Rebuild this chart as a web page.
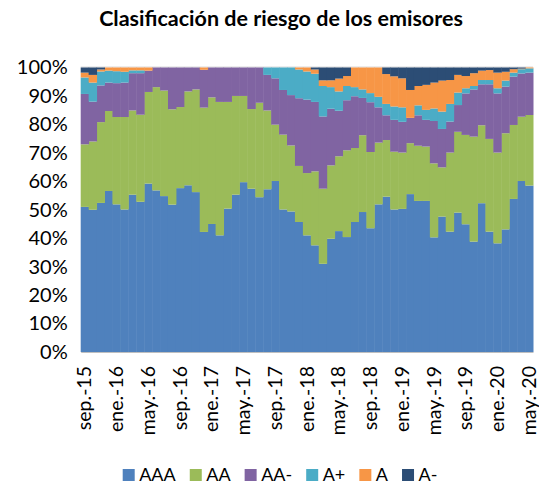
<!DOCTYPE html>
<html>
<head>
<meta charset="utf-8">
<script src="https://cdn.jsdelivr.net/npm/d3@7"></script>
<style>
  body { margin: 0; background: #fff; }
  svg { display: block; font-family: Lato, 'Open Sans', sans-serif; }
</style>
</head>
<body>
<div id="chart"></div>
<script>
// monthly categories, sep-15 .. may-20
const months = [
  'sep.-15', 'oct.-15', 'nov.-15', 'dic.-15',
  'ene.-16', 'feb.-16', 'mar.-16', 'abr.-16', 'may.-16', 'jun.-16', 'jul.-16', 'ago.-16', 'sep.-16', 'oct.-16', 'nov.-16', 'dic.-16',
  'ene.-17', 'feb.-17', 'mar.-17', 'abr.-17', 'may.-17', 'jun.-17', 'jul.-17', 'ago.-17', 'sep.-17', 'oct.-17', 'nov.-17', 'dic.-17',
  'ene.-18', 'feb.-18', 'mar.-18', 'abr.-18', 'may.-18', 'jun.-18', 'jul.-18', 'ago.-18', 'sep.-18', 'oct.-18', 'nov.-18', 'dic.-18',
  'ene.-19', 'feb.-19', 'mar.-19', 'abr.-19', 'may.-19', 'jun.-19', 'jul.-19', 'ago.-19', 'sep.-19', 'oct.-19', 'nov.-19', 'dic.-19',
  'ene.-20', 'feb.-20', 'mar.-20', 'abr.-20', 'may.-20'
]

// share of each rating (%)
const aaa = [
  51.0, 50.0, 52.4, 56.6, 51.9, 50.1, 55.3, 52.8, 59.2, 56.8, 54.8, 51.8, 57.6, 58.6, 56.2,
  42.2, 45.0, 41.0, 50.4, 55.3, 59.7, 57.4, 54.4, 57.2, 60.1, 50.1, 49.4, 45.7, 41.0, 37.5,
  31.0, 39.8, 42.5, 40.4, 45.7, 49.2, 43.5, 51.9, 54.6, 50.1, 50.3, 55.5, 53.1, 53.1, 40.3,
  47.6, 42.3, 49.0, 44.9, 38.8, 52.3, 42.3, 38.2, 43.1, 53.8, 60.1, 58.5
]
const aa = [
  22.0, 24.0, 28.4, 28.1, 30.7, 32.5, 29.6, 30.6, 32.2, 36.3, 37.1, 33.5, 28.5, 33.0, 36.1,
  43.7, 44.5, 46.9, 37.5, 34.7, 30.3, 28.0, 33.2, 27.7, 19.8, 26.3, 23.2, 19.7, 21.9, 26.0,
  26.4, 25.8, 26.3, 30.5, 26.0, 27.0, 26.8, 21.7, 19.9, 20.3, 19.8, 17.9, 19.4, 19.1, 26.0,
  17.3, 27.8, 28.4, 31.4, 36.9, 27.4, 32.6, 31.9, 33.8, 26.0, 22.6, 24.8
]
const aaMinus = [
  17.7, 14.0, 12.9, 10.0, 11.9, 12.1, 13.1, 14.6, 7.5, 6.9, 8.1, 14.7, 13.9, 8.4, 7.7,
  13.3, 10.5, 12.1, 12.1, 10.0, 10.0, 14.6, 12.4, 12.5, 16.3, 15.7, 17.7, 23.8, 25.8, 24.4,
  25.4, 19.9, 16.0, 17.6, 18.2, 13.1, 17.5, 12.4, 8.7, 11.2, 10.8, 8.9, 10.7, 9.4, 14.9,
  13.5, 10.9, 9.4, 14.6, 16.6, 14.4, 19.2, 20.8, 16.4, 17.0, 15.2, 14.9
]
const aPlus = [
  5.8, 6.7, 4.9, 4.2, 4.2, 3.8, 1.0, 1.0, 0, 0, 0, 0, 0, 0, 0,
  0, 0, 0, 0, 0, 0, 0, 0, 2.6, 3.8, 7.9, 9.7, 10.1, 9.9, 9.9,
  10.7, 7.6, 6.8, 5.0, 3.2, 3.0, 3.2, 3.7, 4.0, 4.7, 5.1, 0, 3.5, 3.5, 4.4,
  6.1, 6.2, 4.4, 1.8, 1.2, 1.5, 1.5, 1.8, 2.1, 1.4, 1.5, 1.5
]
const aRating = [
  1.7, 2.7, 0.7, 1.1, 1.3, 1.5, 1.0, 1.0, 1.1, 0, 0, 0, 0, 0, 0,
  0.8, 0, 0, 0, 0, 0, 0, 0, 0, 0, 0, 0, 0.7, 1.4, 1.5,
  2.0, 2.4, 4.5, 3.5, 6.9, 7.7, 9.0, 10.3, 10.5, 10.6, 10.2, 9.8, 6.8, 8.8, 9.1,
  10.9, 8.4, 6.2, 4.3, 4.5, 3.3, 3.5, 5.5, 3.1, 1.2, 0.2, 0.3
]
const aMinus = [
  1.8, 2.6, 0.7, 0, 0, 0, 0, 0, 0, 0, 0, 0, 0, 0, 0,
  0, 0, 0, 0, 0, 0, 0, 0, 0, 0, 0, 0, 0, 0, 0.7,
  4.5, 4.5, 3.9, 3.0, 0, 0, 0, 0, 2.3, 3.1, 3.8, 7.9, 6.5, 6.1, 5.3,
  4.6, 4.4, 2.6, 3.0, 2.0, 1.1, 0.9, 1.8, 1.5, 0.6, 0.4, 0
]

const seriesNames = ['AAA', 'AA', 'AA-', 'A+', 'A', 'A-']
const seriesValues = [aaa, aa, aaMinus, aPlus, aRating, aMinus]
const colors = ['#4F81BD', '#9BBB59', '#8064A2', '#4BACC6', '#F79646', '#2C4D75']
const yTicks = [0, 10, 20, 30, 40, 50, 60, 70, 80, 90, 100]

const width = 539
const height = 484
const margin = { top: 67.5, right: 6, bottom: 132, left: 80.7 }

const rows = months.map((m, i) => {
  const row = { month: m }
  seriesNames.forEach((s, j) => (row[s] = seriesValues[j][i]))
  return row
})

const svg = d3
  .select('#chart')
  .append('svg')
  .attr('width', width)
  .attr('height', height)
  .attr('viewBox', [0, 0, width, height])

const x = d3
  .scaleBand()
  .domain(months)
  .range([margin.left, width - margin.right])
  .padding(0)

const y = d3
  .scaleLinear()
  .domain([0, 100])
  .range([height - margin.bottom, margin.top])

const stacked = d3.stack().keys(seriesNames)(rows)

// top gridline
svg
  .append('line')
  .attr('x1', margin.left)
  .attr('x2', width - margin.right)
  .attr('y1', y(100) - 0.5)
  .attr('y2', y(100) - 0.5)
  .attr('stroke', '#d9d9d9')

svg
  .append('g')
  .selectAll('g')
  .data(stacked)
  .join('g')
  .attr('fill', (d, i) => colors[i])
  .selectAll('rect')
  .data((d) => d)
  .join('rect')
  .attr('x', (d) => x(d.data.month))
  .attr('y', (d) => y(d[1]))
  .attr('width', x.bandwidth() + 0.5)
  .attr('height', (d) => y(d[0]) - y(d[1]))

// y axis (labels only)
svg
  .append('g')
  .attr('transform', `translate(${margin.left}, 0)`)
  .call(
    d3
      .axisLeft(y)
      .tickValues(yTicks)
      .tickFormat((d) => d + '%')
      .tickSize(0)
      .tickPadding(13)
  )
  .call((g) => g.select('.domain').remove())
  .selectAll('text')
  .attr('font-family', 'Lato, sans-serif')
  .attr('font-size', 20)
  .attr('fill', '#000')

// x axis
const xAxis = svg
  .append('g')
  .attr('transform', `translate(0, ${y(0)})`)
  .call(
    d3
      .axisBottom(x)
      .tickValues(months.filter((m, i) => i % 4 === 0))
      .tickSize(0)
  )
xAxis.select('.domain').attr('stroke', '#bfbfbf')
xAxis
  .selectAll('text')
  .attr('font-family', 'Lato, sans-serif')
  .attr('font-size', 19.5)
  .attr('fill', '#000')
  .attr('text-anchor', 'end')
  .attr('transform', 'rotate(-90)')
  .attr('x', -14)
  .attr('y', 0)
  .attr('dy', '0.35em')

// title
svg
  .append('text')
  .attr('x', 281)
  .attr('y', 26)
  .attr('text-anchor', 'middle')
  .attr('font-size', 21.5)
  .attr('font-weight', 'bold')
  .text('Clasificación de riesgo de los emisores')

// legend
const legend = svg.append('g').attr('transform', 'translate(0, 469)')
let lx = 122.7
seriesNames.forEach((s, i) => {
  legend
    .append('rect')
    .attr('x', lx)
    .attr('y', 0)
    .attr('width', 12)
    .attr('height', 12)
    .attr('fill', colors[i])
  const t = legend
    .append('text')
    .attr('x', lx + 16.5)
    .attr('y', 12)
    .attr('font-size', 18)
    .text(s)
  lx += 16.5 + t.node().getComputedTextLength() + 14
})
</script>
</body>
</html>
